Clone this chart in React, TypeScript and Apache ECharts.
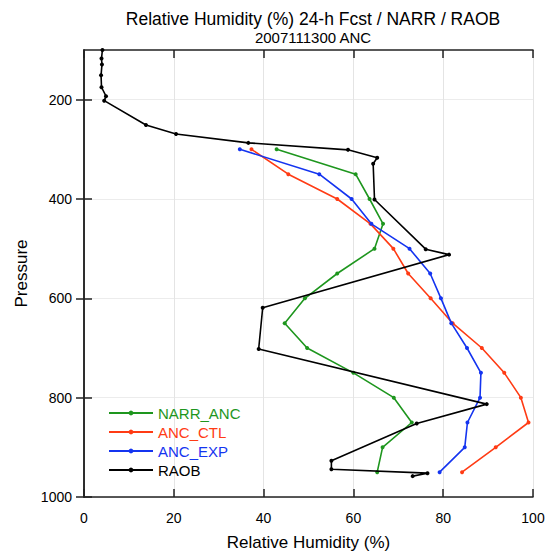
import React, { useEffect, useRef } from "react";
import * as echarts from "echarts";

const levels = [300, 350, 400, 450, 500, 550, 600, 650, 700, 750, 800, 850, 900, 950];
const narrAnc = [42.9, 60.5, 63.6, 66.6, 64.7, 56.4, 49.2, 44.7, 49.7, 60.0, 69.0, 73.0, 66.5, 65.3];
const ancCtl = [37.3, 45.5, 56.4, 63.8, 68.9, 72.2, 77.2, 82.1, 88.6, 93.6, 97.3, 99.0, 91.7, 84.2];
const ancExp = [34.7, 52.4, 59.6, 64.0, 72.5, 77.1, 79.5, 81.8, 85.3, 88.4, 88.2, 85.4, 84.8, 79.2];

const raobPressure = [100, 117, 129, 151, 175, 193, 202, 251, 269, 287, 301, 317, 329, 401, 501, 512, 619, 702, 813, 852, 927, 944, 952, 958];
const raobRh = [4.1, 3.9, 4.0, 3.8, 3.9, 4.9, 4.5, 13.8, 20.5, 36.6, 58.8, 65.3, 64.4, 64.7, 76.1, 81.3, 39.8, 38.9, 89.7, 74.1, 55.1, 55.1, 76.5, 73.2];

const xTicks = [0, 20, 40, 60, 80, 100];
const yTicks = [200, 400, 600, 800, 1000];

const seriesNames = ["NARR_ANC", "ANC_CTL", "ANC_EXP", "RAOB"];
const seriesColors = ["#1e961e", "#ff3b14", "#1434f0", "#000000"];

const FONT = "Liberation Sans, Arial, sans-serif";

export default function App() {
  const ref = useRef<HTMLDivElement>(null);
  useEffect(() => {
    if (!ref.current) return;
    const chart = echarts.init(ref.current, undefined, { renderer: "svg" });
    const profiles = [
      levels.map((p, i) => [narrAnc[i], p]),
      levels.map((p, i) => [ancCtl[i], p]),
      levels.map((p, i) => [ancExp[i], p]),
      raobPressure.map((p, i) => [raobRh[i], p]),
    ];
    const axisLine = { show: true, lineStyle: { color: "#222", width: 1.5 } };
    const tick = { show: true, inside: true, length: 8, lineStyle: { color: "#222", width: 1.5 } };
    chart.setOption({
      animation: false,
      textStyle: { fontFamily: FONT },
      title: [
        {
          text: "Relative Humidity (%) 24-h Fcst / NARR / RAOB",
          left: 308,
          textAlign: "center",
          top: 5,
          textStyle: { fontSize: 17.5, fontWeight: "normal", color: "#000", fontFamily: FONT },
        },
        {
          text: "2007111300 ANC",
          left: 308,
          textAlign: "center",
          top: 25,
          textStyle: { fontSize: 15, fontWeight: "normal", color: "#000", fontFamily: FONT },
        },
      ],
      legend: {
        orient: "vertical",
        left: 108,
        top: 405,
        padding: 0,
        itemWidth: 44,
        itemHeight: 6,
        itemGap: 3,
        textStyle: { fontSize: 15, lineHeight: 16, fontFamily: FONT },
        data: seriesNames.map((n, i) => ({ name: n, textStyle: { color: i === 3 ? "#000" : seriesColors[i] } })),
      },
      grid: { left: 84, right: 19, top: 50, bottom: 56, show: false },
      xAxis: [
        {
          type: "value",
          min: 0,
          max: 100,
          interval: 20,
          position: "bottom",
          name: "Relative Humidity (%)",
          nameLocation: "middle",
          nameGap: 37,
          nameTextStyle: { fontSize: 17, color: "#000", fontFamily: FONT },
          axisLine,
          axisTick: tick,
          axisLabel: { fontSize: 14, color: "#000", margin: 14, customValues: xTicks, fontFamily: FONT },
          splitLine: { show: true, lineStyle: { color: "#e4e4e4", width: 1 } },
        },
        {
          type: "value",
          min: 0,
          max: 100,
          interval: 20,
          position: "top",
          axisLine,
          axisTick: tick,
          axisLabel: { show: false },
          splitLine: { show: false },
        },
      ],
      yAxis: [
        {
          type: "value",
          min: 100,
          max: 1000,
          inverse: true,
          position: "left",
          name: "Pressure",
          nameLocation: "middle",
          nameGap: 54,
          nameRotate: 90,
          nameTextStyle: { fontSize: 17, color: "#000", fontFamily: FONT },
          axisLine,
          axisTick: { ...tick, customValues: yTicks },
          axisLabel: {
            fontSize: 14,
            color: "#000",
            margin: 12,
            customValues: yTicks,
            fontFamily: FONT,
            formatter: (v: number) => String(v),
          },
          splitLine: { show: true, lineStyle: { color: "#ececec", width: 1 } },
        },
        {
          type: "value",
          min: 100,
          max: 1000,
          inverse: true,
          position: "right",
          axisLine,
          axisTick: { ...tick, customValues: yTicks },
          axisLabel: { show: false },
          splitLine: { show: false },
        },
      ],
      series: seriesNames.map((n, i) => ({
        name: n,
        type: "line",
        xAxisIndex: 0,
        yAxisIndex: 0,
        data: profiles[i],
        color: seriesColors[i],
        symbol: "circle",
        symbolSize: 4,
        showSymbol: true,
        lineStyle: { width: 1.6, color: seriesColors[i] },
        itemStyle: { color: seriesColors[i] },
        z: i === 3 ? 3 : 2,
      })),
    });
    return () => chart.dispose();
  }, []);
  return (
    <div
      ref={ref}
      style={{ position: "fixed", left: 0, top: 0, width: 552, height: 556, background: "#fff" }}
    />
  );
}
